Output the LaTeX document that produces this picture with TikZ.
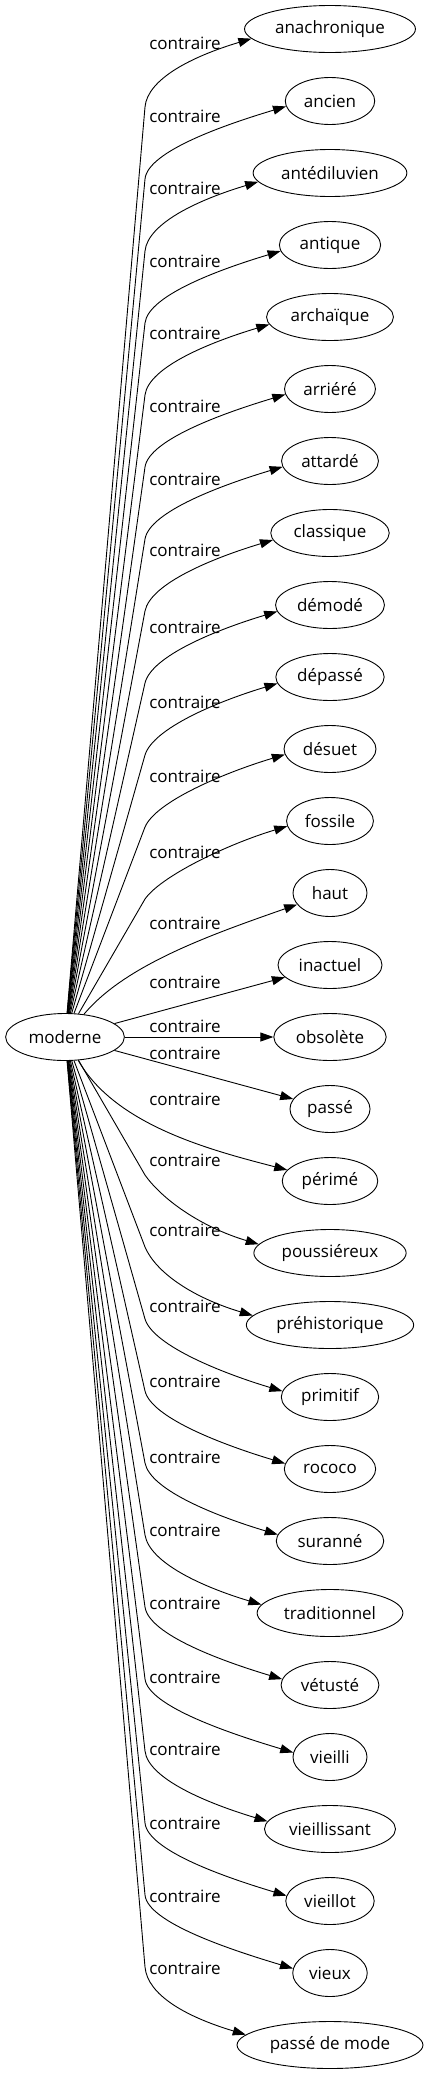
\documentclass[tikz,border=0pt]{standalone}
\usepackage{fontspec}
\setmainfont{Open Sans}
\usetikzlibrary{arrows.meta,shapes.geometric,calc}

\begin{document}
\begin{tikzpicture}[x=1pt,y=-1pt,>={Triangle[length=13pt,width=9pt]},
  word/.style={draw,ellipse,line width=0.9pt,inner xsep=5.5pt,inner ysep=0pt,minimum width=74pt,minimum height=47pt,font=\fontsize{17}{20}\selectfont},
  lbl/.style={inner sep=0pt,font=\fontsize{17}{20}\selectfont}]
  \useasboundingbox (0,0) rectangle (426,2075);
  \node (m) [word] at (65,1037) {moderne};
  \foreach \w/\ly [count=\k from 0] in {anachronique/43,ancien/116,antédiluvien/188,antique/261,archaïque/333,arriéré/406,attardé/479,classique/550,démodé/627,dépassé/702,désuet/776,fossile/852,haut/923,inactuel/982,obsolète/1026,passé/1053,périmé/1099,poussiéreux/1160,préhistorique/1230,primitif/1306,rococo/1381,suranné/1457,traditionnel/1530,vétusté/1603,vieilli/1677,vieillissant/1749,vieillot/1823,vieux/1896,passé de mode/1968}{
    \node (t\k) [word] at (330,29+72*\k) {\w};
    \node (c\k) [lbl] at (185,\ly) {contraire};
  }
  % far edges, upwards
  \foreach \k in {0,...,11}{
    \coordinate (b\k) at (145,107+72*\k);
    \draw[->,line width=0.9pt] (m) -- (b\k) .. controls ($(b\k)!-28pt!(m.north)$) and +(-60,18) .. (t\k.187);
  }
  % near edges
  \draw[->,line width=0.9pt] (m) .. controls (125,965) and (210,935) .. (t12);
  \draw[->,line width=0.9pt] (m) -- (t13);
  \draw[->,line width=0.9pt] (m) -- (t14);
  \draw[->,line width=0.9pt] (m) -- (t15);
  \draw[->,line width=0.9pt] (m) .. controls (115,1125) and (210,1150) .. (t16);
  % far edges, downwards
  \foreach \k in {17,...,28}{
    \coordinate (b\k) at (145,29+72*\k-78);
    \draw[->,line width=0.9pt] (m) -- (b\k) .. controls ($(b\k)!-28pt!(m.south)$) and +(-60,-18) .. (t\k.173);
  }
\end{tikzpicture}
\end{document}
